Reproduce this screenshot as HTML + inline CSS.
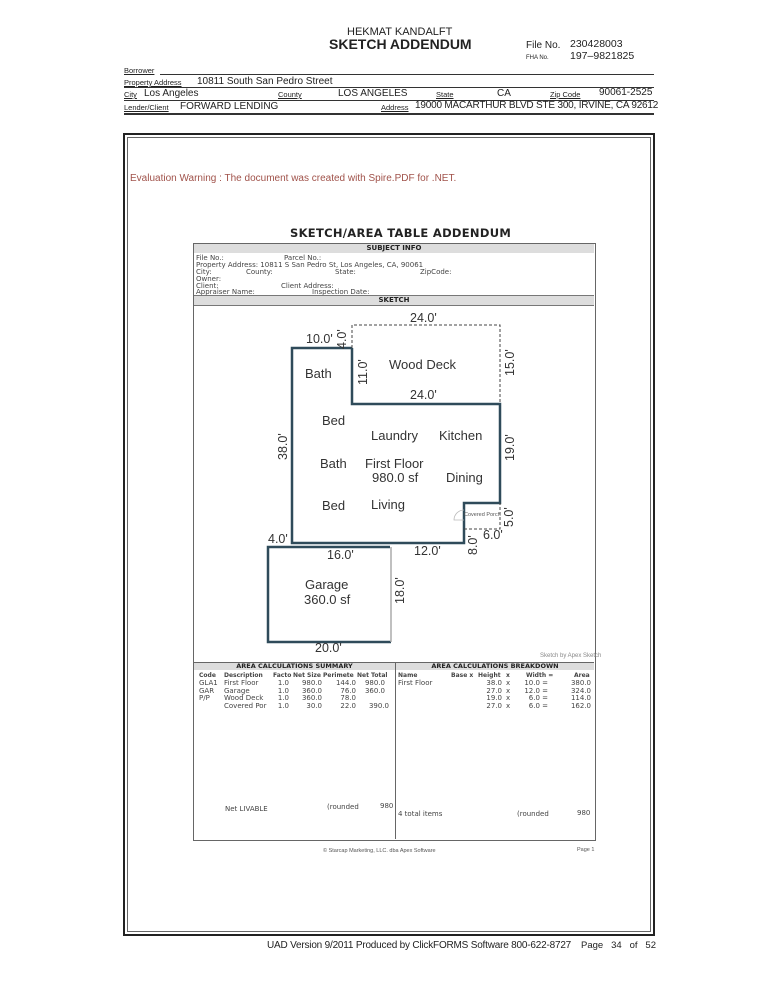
<!DOCTYPE html>
<html><head><meta charset="utf-8"><style>
body{margin:0;width:779px;height:1008px;background:#fff;position:relative;overflow:hidden;font-family:"Liberation Sans",sans-serif;color:#222}
.a{position:absolute;white-space:nowrap}
.s{font-size:7px;color:#444;font-family:"DejaVu Sans",sans-serif}
.r{text-align:right;width:40px}
.n{font-size:12.5px;color:#333;font-family:"Liberation Sans",sans-serif}
.h{height:1px;background:#333;position:absolute}
.l{font-size:7.5px;text-decoration:underline}
</style></head><body>
<div class="a" style="left:347px;top:26px;font-size:11px">HEKMAT KANDALFT</div>
<div class="a" style="left:329px;top:36px;font-size:14px;font-weight:bold">SKETCH ADDENDUM</div>
<div class="a" style="left:526px;top:40px;font-size:10px">File No.</div>
<div class="a" style="left:570px;top:38px;font-size:10.5px">230428003</div>
<div class="a" style="left:526px;top:55px;font-size:6px">FHA No.</div>
<div class="a" style="left:570px;top:50px;font-size:10.5px">197–9821825</div>

<div class="a l" style="left:124px;top:66px">Borrower</div>
<div class="h" style="left:160px;top:74px;width:494px"></div>
<div class="a l" style="left:124px;top:78px">Property Address</div>
<div class="a" style="left:197px;top:76px;font-size:10px">10811 South San Pedro Street</div>
<div class="h" style="left:124px;top:87px;width:530px"></div>
<div class="a l" style="left:124px;top:90px">City</div>
<div class="a" style="left:144px;top:88px;font-size:10px">Los Angeles</div>
<div class="a l" style="left:278px;top:90px">County</div>
<div class="a" style="left:338px;top:88px;font-size:10px">LOS ANGELES</div>
<div class="a l" style="left:436px;top:90px">State</div>
<div class="a" style="left:497px;top:88px;font-size:10px">CA</div>
<div class="a l" style="left:550px;top:90px">Zip Code</div>
<div class="a" style="left:599px;top:87px;font-size:10px">90061-2525</div>
<div class="h" style="left:124px;top:100px;width:530px"></div>
<div class="a l" style="left:124px;top:103px">Lender/Client</div>
<div class="a" style="left:180px;top:101px;font-size:10px">FORWARD LENDING</div>
<div class="a l" style="left:381px;top:103px">Address</div>
<div class="a" style="left:415px;top:100px;font-size:10px;letter-spacing:-0.2px">19000 MACARTHUR BLVD STE 300, IRVINE, CA 92612</div>
<div class="h" style="left:124px;top:113px;width:530px;height:1.5px"></div>

<div class="a" style="left:123px;top:133px;width:528px;height:799px;border:2px solid #222"></div>
<div class="a" style="left:127px;top:137px;width:522px;height:793px;border:1px solid #666"></div>
<div class="a" style="left:130px;top:173px;font-size:10px;color:#a0524a">Evaluation Warning : The document was created with Spire.PDF for .NET.</div>

<div class="a" style="left:290px;top:226px;font-size:11.5px;font-weight:bold;font-family:'DejaVu Sans',sans-serif;letter-spacing:0.3px">SKETCH/AREA TABLE ADDENDUM</div>
<div class="a" style="left:193px;top:243px;width:401px;height:596px;border:1px solid #666"></div>
<div class="a" style="left:194px;top:244px;width:400px;height:9px;background:#ddd;font-size:7px;font-weight:bold;text-align:center;line-height:9px;font-family:'DejaVu Sans',sans-serif">SUBJECT INFO</div>
<div class="a s" style="left:196px;top:254px">File No.:</div><div class="a s" style="left:284px;top:254px">Parcel No.:</div>
<div class="a s" style="left:196px;top:261px">Property Address: 10811 S San Pedro St, Los Angeles, CA, 90061</div>
<div class="a s" style="left:196px;top:268px">City:</div><div class="a s" style="left:246px;top:268px">County:</div><div class="a s" style="left:335px;top:268px">State:</div><div class="a s" style="left:420px;top:268px">ZipCode:</div>
<div class="a s" style="left:196px;top:275px">Owner:</div>
<div class="a s" style="left:196px;top:282px">Client:</div><div class="a s" style="left:281px;top:282px">Client Address:</div>
<div class="a s" style="left:196px;top:288px">Appraiser Name:</div><div class="a s" style="left:312px;top:288px">Inspection Date:</div>
<div class="a" style="left:194px;top:295px;width:400px;height:9px;background:#ddd;font-size:7px;font-weight:bold;text-align:center;line-height:9px;font-family:'DejaVu Sans',sans-serif;border-top:1px solid #777;border-bottom:1px solid #777">SKETCH</div>

<svg class="a" style="left:0;top:0" width="779" height="1008">
<g fill="none" stroke="#2f4b5a" stroke-width="2.5">
<polyline points="352,348 292,348 292,543 464,543 464,503 500,503 500,404 352,404 352,348"/>
<polyline points="390,547 268,547 268,642 391,642"/>
</g>
<line x1="391" y1="547" x2="391" y2="642" stroke="#aaa" stroke-width="1.5"/>
<g fill="none" stroke="#444" stroke-width="1" stroke-dasharray="3,2">
<polyline points="352,348 352,325 500,325 500,404"/>
<polyline points="464,529 500,529 500,503"/>
</g>
<path d="M464,510 A10,10 0 0 0 454,520 L464,520" fill="none" stroke="#bbb" stroke-width="0.8"/>
</svg>

<div class="a n" style="left:410px;top:311px">24.0'</div>
<div class="a n" style="left:306px;top:332px">10.0'</div>
<div class="a n" style="left:335px;top:349px;transform:rotate(-90deg);transform-origin:left top">4.0'</div>
<div class="a n" style="left:389px;top:357px;font-size:13px">Wood Deck</div>
<div class="a n" style="left:356px;top:385px;transform:rotate(-90deg);transform-origin:left top">11.0'</div>
<div class="a n" style="left:503px;top:376px;transform:rotate(-90deg);transform-origin:left top">15.0'</div>
<div class="a n" style="left:305px;top:366px;font-size:13px">Bath</div>
<div class="a n" style="left:410px;top:388px">24.0'</div>
<div class="a n" style="left:322px;top:413px;font-size:13px">Bed</div>
<div class="a n" style="left:371px;top:428px;font-size:13px">Laundry</div>
<div class="a n" style="left:439px;top:428px;font-size:13px">Kitchen</div>
<div class="a n" style="left:276px;top:460px;transform:rotate(-90deg);transform-origin:left top">38.0'</div>
<div class="a n" style="left:503px;top:461px;transform:rotate(-90deg);transform-origin:left top">19.0'</div>
<div class="a n" style="left:320px;top:456px;font-size:13px">Bath</div>
<div class="a n" style="left:365px;top:456px;font-size:13px">First Floor</div>
<div class="a n" style="left:372px;top:470px;font-size:13px">980.0 sf</div>
<div class="a n" style="left:446px;top:470px;font-size:13px">Dining</div>
<div class="a n" style="left:322px;top:498px;font-size:13px">Bed</div>
<div class="a n" style="left:371px;top:497px;font-size:13px">Living</div>
<div class="a" style="left:464px;top:512px;font-size:5.5px;color:#555">Covered Porch</div>
<div class="a n" style="left:502px;top:527px;transform:rotate(-90deg);transform-origin:left top">5.0'</div>
<div class="a n" style="left:466px;top:555px;transform:rotate(-90deg);transform-origin:left top">8.0'</div>
<div class="a n" style="left:483px;top:528px">6.0'</div>
<div class="a n" style="left:268px;top:532px">4.0'</div>
<div class="a n" style="left:327px;top:548px">16.0'</div>
<div class="a n" style="left:414px;top:544px">12.0'</div>
<div class="a n" style="left:305px;top:577px;font-size:13px">Garage</div>
<div class="a n" style="left:304px;top:592px;font-size:13px">360.0 sf</div>
<div class="a n" style="left:393px;top:604px;transform:rotate(-90deg);transform-origin:left top">18.0'</div>
<div class="a n" style="left:315px;top:641px">20.0'</div>
<div class="a" style="left:540px;top:653px;font-size:6px;color:#888">Sketch by Apex Sketch</div>

<div class="a" style="left:193px;top:662px;width:401px;height:1px;background:#666"></div>
<div class="a" style="left:395px;top:662px;width:1px;height:177px;background:#666"></div>
<div class="a" style="left:194px;top:663px;width:201px;height:7px;background:#ddd;font-size:6.5px;font-weight:bold;text-align:center;line-height:7px;font-family:'DejaVu Sans',sans-serif">AREA CALCULATIONS SUMMARY</div>
<div class="a" style="left:396px;top:663px;width:198px;height:7px;background:#ddd;font-size:6.5px;font-weight:bold;text-align:center;line-height:7px;font-family:'DejaVu Sans',sans-serif">AREA CALCULATIONS BREAKDOWN</div>

<div class="a s" style="left:199px;top:672px;font-weight:bold;font-size:6px">Code</div>
<div class="a s" style="left:224px;top:672px;font-weight:bold;font-size:6px">Description</div>
<div class="a s" style="left:273px;top:672px;font-weight:bold;font-size:6px">Facto</div>
<div class="a s" style="left:293px;top:672px;font-weight:bold;font-size:6px">Net Size</div>
<div class="a s" style="left:323px;top:672px;font-weight:bold;font-size:6px">Perimete</div>
<div class="a s" style="left:357px;top:672px;font-weight:bold;font-size:6px">Net Total</div>

<div class="a s" style="left:199px;top:679px">GLA1</div><div class="a s" style="left:224px;top:679px">First Floor</div>
<div class="a s r" style="left:249px;top:679px">1.0</div><div class="a s r" style="left:282px;top:679px">980.0</div><div class="a s r" style="left:316px;top:679px">144.0</div><div class="a s r" style="left:345px;top:679px">980.0</div>
<div class="a s" style="left:199px;top:687px">GAR</div><div class="a s" style="left:224px;top:687px">Garage</div>
<div class="a s r" style="left:249px;top:687px">1.0</div><div class="a s r" style="left:282px;top:687px">360.0</div><div class="a s r" style="left:316px;top:687px">76.0</div><div class="a s r" style="left:345px;top:687px">360.0</div>
<div class="a s" style="left:199px;top:694px">P/P</div><div class="a s" style="left:224px;top:694px">Wood Deck</div>
<div class="a s r" style="left:249px;top:694px">1.0</div><div class="a s r" style="left:282px;top:694px">360.0</div><div class="a s r" style="left:316px;top:694px">78.0</div>
<div class="a s" style="left:224px;top:702px">Covered Por</div>
<div class="a s r" style="left:249px;top:702px">1.0</div><div class="a s r" style="left:282px;top:702px">30.0</div><div class="a s r" style="left:316px;top:702px">22.0</div><div class="a s r" style="left:349px;top:702px">390.0</div>

<div class="a s" style="left:398px;top:672px;font-weight:bold;font-size:6px">Name</div>
<div class="a s" style="left:451px;top:672px;font-weight:bold;font-size:6px">Base x</div>
<div class="a s" style="left:478px;top:672px;font-weight:bold;font-size:6px">Height</div>
<div class="a s" style="left:506px;top:672px;font-weight:bold;font-size:6px">x</div>
<div class="a s" style="left:526px;top:672px;font-weight:bold;font-size:6px">Width =</div>
<div class="a s" style="left:574px;top:672px;font-weight:bold;font-size:6px">Area</div>

<div class="a s" style="left:398px;top:679px">First Floor</div>
<div class="a s r" style="left:462px;top:679px">38.0</div><div class="a s" style="left:506px;top:679px">x</div><div class="a s r" style="left:508px;top:679px">10.0 =</div><div class="a s r" style="left:551px;top:679px">380.0</div>
<div class="a s r" style="left:462px;top:687px">27.0</div><div class="a s" style="left:506px;top:687px">x</div><div class="a s r" style="left:508px;top:687px">12.0 =</div><div class="a s r" style="left:551px;top:687px">324.0</div>
<div class="a s r" style="left:462px;top:694px">19.0</div><div class="a s" style="left:506px;top:694px">x</div><div class="a s r" style="left:508px;top:694px">6.0 =</div><div class="a s r" style="left:551px;top:694px">114.0</div>
<div class="a s r" style="left:462px;top:702px">27.0</div><div class="a s" style="left:506px;top:702px">x</div><div class="a s r" style="left:508px;top:702px">6.0 =</div><div class="a s r" style="left:551px;top:702px">162.0</div>

<div class="a s" style="left:225px;top:805px">Net LIVABLE</div>
<div class="a s" style="left:327px;top:803px">(rounded</div>
<div class="a s" style="left:380px;top:802px">980</div>
<div class="a s" style="left:398px;top:810px">4 total items</div>
<div class="a s" style="left:517px;top:810px">(rounded</div>
<div class="a s" style="left:577px;top:809px">980</div>
<div class="a" style="left:323px;top:848px;font-size:5.5px;color:#555">© Starcap Marketing, LLC. dba Apex Software</div>
<div class="a" style="left:577px;top:847px;font-size:5.5px;color:#555">Page 1</div>

<div class="a" style="left:267px;top:940px;font-size:10px;letter-spacing:-0.2px">UAD Version 9/2011 Produced by ClickFORMS Software 800-622-8727</div>
<div class="a" style="left:581px;top:940px;font-size:9.5px">Page&nbsp;&nbsp; 34&nbsp;&nbsp; of&nbsp;&nbsp; 52</div>
</body></html>
